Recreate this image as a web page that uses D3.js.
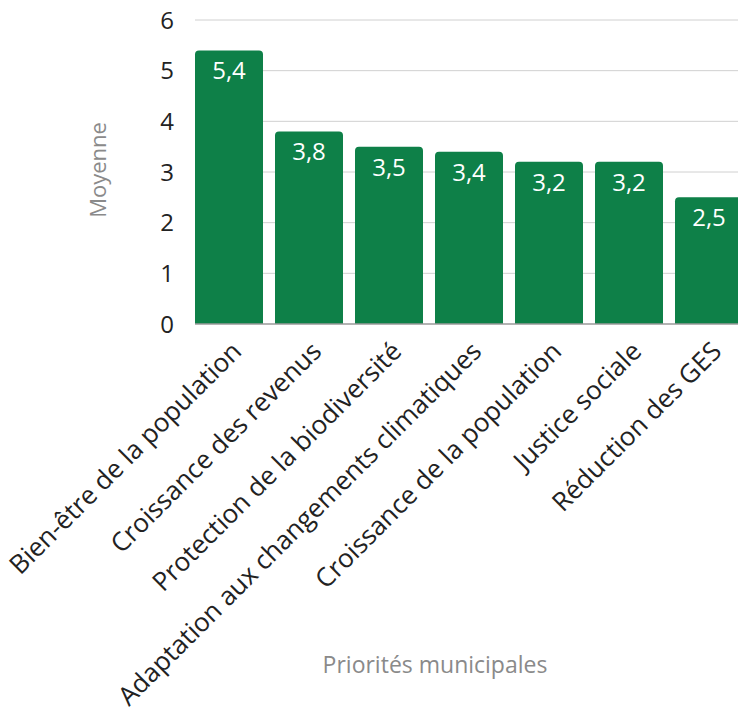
<!DOCTYPE html>
<html>
<head>
<meta charset="utf-8">
<script src="https://cdn.jsdelivr.net/npm/d3@7"></script>
<style>
  html, body { margin: 0; padding: 0; background: #fff; }
  svg { display: block; font-family: "Open Sans", "Noto Sans", sans-serif; }
</style>
</head>
<body>
<svg id="chart" width="738" height="715"></svg>
<script>
// Priorités municipales — moyenne par priorité
const categories = [
  "Bien-être de la population",
  "Croissance des revenus",
  "Protection de la biodiversité",
  "Adaptation aux changements climatiques",
  "Croissance de la population",
  "Justice sociale",
  "Réduction des GES"
];
const values = [5.4, 3.8, 3.5, 3.4, 3.2, 3.2, 2.5];
const yTicks = [0, 1, 2, 3, 4, 5, 6];
const yTitle = "Moyenne";
const xTitle = "Priorités municipales";

const svg = d3.select("#chart");
const plotLeft = 195, plotRight = 738, plotTop = 20, plotBottom = 324;

const x = d3.scaleBand()
  .domain(categories)
  .range([189, 749])
  .paddingInner(0.15)
  .paddingOuter(0.075);

const y = d3.scaleLinear().domain([0, 6]).range([plotBottom, plotTop]);

const fmt = v => d3.format(".1f")(v).replace(".", ",");

// horizontal gridlines
svg.append("g")
  .selectAll("line")
  .data(yTicks.filter(t => t > 0))
  .join("line")
  .attr("x1", plotLeft).attr("x2", plotRight)
  .attr("y1", d => y(d)).attr("y2", d => y(d))
  .attr("stroke", "#d0d0d0").attr("stroke-width", 1);

// y tick labels
svg.append("g")
  .selectAll("text")
  .data(yTicks)
  .join("text")
  .attr("x", 174)
  .attr("y", d => y(d))
  .attr("dy", "0.36em")
  .attr("text-anchor", "end")
  .attr("font-size", 24)
  .attr("fill", "#222")
  .text(d => d);

// bars with rounded top corners
const r = 4;
function barPath(x0, w, yTop, yBase) {
  return `M${x0},${yBase}V${yTop + r}Q${x0},${yTop} ${x0 + r},${yTop}` +
         `H${x0 + w - r}Q${x0 + w},${yTop} ${x0 + w},${yTop + r}V${yBase}Z`;
}
svg.append("g")
  .selectAll("path")
  .data(categories)
  .join("path")
  .attr("d", (c, i) => barPath(x(c), x.bandwidth(), y(values[i]), y(0)))
  .attr("fill", "#0e8048");

// value labels inside bars
svg.append("g")
  .selectAll("text")
  .data(categories)
  .join("text")
  .attr("x", c => x(c) + x.bandwidth() / 2)
  .attr("y", (c, i) => y(values[i]) + 29)
  .attr("text-anchor", "middle")
  .attr("font-size", 24)
  .attr("fill", "#fff")
  .text((c, i) => fmt(values[i]));

// baseline
svg.append("line")
  .attr("x1", plotLeft).attr("x2", plotRight)
  .attr("y1", y(0)).attr("y2", y(0))
  .attr("stroke", "#9a9a9a").attr("stroke-width", 1.5);

// rotated category labels
svg.append("g")
  .selectAll("text")
  .data(categories)
  .join("text")
  .attr("transform", c => `translate(${x(c) + x.bandwidth() / 2 + 14},${y(0) + 29}) rotate(-45)`)
  .attr("text-anchor", "end")
  .attr("font-size", 26)
  .attr("fill", "#222")
  .text(c => c);

// axis titles
svg.append("text")
  .attr("transform", `translate(106,${(plotTop + plotBottom) / 2 - 2}) rotate(-90)`)
  .attr("text-anchor", "middle")
  .attr("font-size", 22)
  .attr("fill", "#8a8a8a")
  .text(yTitle);

svg.append("text")
  .attr("x", 435)
  .attr("y", 673)
  .attr("text-anchor", "middle")
  .attr("font-size", 23)
  .attr("fill", "#8a8a8a")
  .text(xTitle);
</script>
</body>
</html>
